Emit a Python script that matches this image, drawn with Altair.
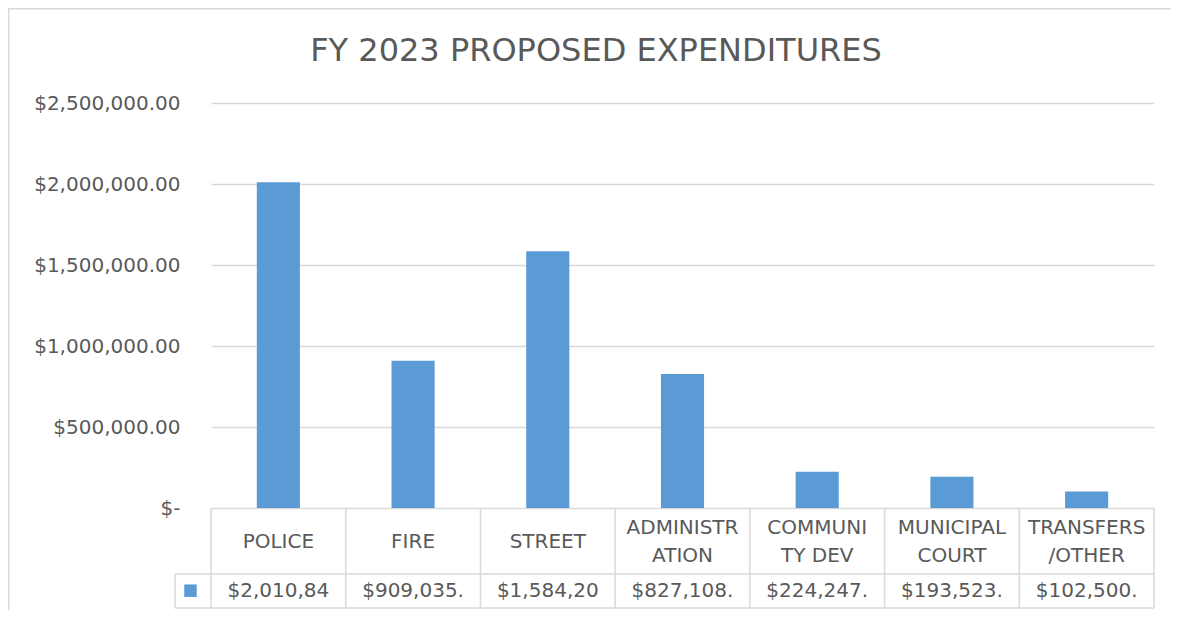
import altair as alt
import pandas as pd

# ---- data ----
categories = ["POLICE", "FIRE", "STREET", "ADMINISTRATION", "COMMUNITY DEV",
              "MUNICIPAL COURT", "TRANSFERS/OTHER"]
header_labels = ["POLICE", "FIRE", "STREET", "ADMINISTR\nATION", "COMMUNI\nTY DEV",
                 "MUNICIPAL\nCOURT", "TRANSFERS\n/OTHER"]
values = [2010840, 909035, 1584200, 827108, 224247, 193523, 102500]
y_ticks = [0, 500000, 1000000, 1500000, 2000000, 2500000]
title_text = "FY 2023 PROPOSED EXPENDITURES"

# Excel data table cells show a fixed-width, truncated currency string
value_labels = [f"${v:,.2f}"[:9] for v in values]

df = pd.DataFrame({
    "category": categories,
    "value": values,
    "header": header_labels,
    "vlabel": value_labels,
    "mid": [i + 0.5 for i in range(len(categories))],
})
bounds = pd.DataFrame({"b": list(range(len(categories) + 1))})

W, H = 943, 405
FONT = "DejaVu Sans"
TXT = "#595959"
GRID = "#d9d9d9"
BLUE = "#5b9bd5"

lin_x = alt.Scale(domain=[0, len(categories)], nice=False, zero=False)

bars = alt.Chart(df).mark_bar(color=BLUE).encode(
    x=alt.X("category:N", sort=categories,
            scale=alt.Scale(paddingInner=0.68, paddingOuter=0.34), axis=None),
    y=alt.Y("value:Q",
            scale=alt.Scale(domain=[0, 2500000], nice=False),
            axis=alt.Axis(values=y_ticks, format="$,.2f",
                          labelExpr="datum.value == 0 ? '$-\u2002' : datum.label",
                          grid=True, gridColor=GRID, gridWidth=1.5,
                          domain=False, ticks=False, labelPadding=31,
                          labelFont=FONT, labelFontSize=20, labelColor=TXT,
                          title=None)),
)

# data-table frame
vlines = alt.Chart(bounds).mark_rule(color=GRID, strokeWidth=1.5).encode(
    x=alt.X("b:Q", scale=lin_x, axis=None),
    y=alt.value(H), y2=alt.value(H + 100),
)
one = pd.DataFrame({"k": [0]})
h_mid = alt.Chart(one).mark_rule(color=GRID, strokeWidth=1.5).encode(
    x=alt.value(-36), x2=alt.value(W), y=alt.value(H + 66))
h_bot = alt.Chart(one).mark_rule(color=GRID, strokeWidth=1.5).encode(
    x=alt.value(-36), x2=alt.value(W), y=alt.value(H + 100))
v_leg = alt.Chart(one).mark_rule(color=GRID, strokeWidth=1.5).encode(
    x=alt.value(-36), y=alt.value(H + 66), y2=alt.value(H + 100))
frame = alt.Chart(one).mark_rect(filled=False, color=GRID, strokeWidth=1.5).encode(
    x=alt.value(-202.25), x2=alt.value(W + 40),
    y=alt.value(-94.25), y2=alt.value(H + 140))
legend_key = alt.Chart(one).mark_point(shape="square", filled=True, size=156,
                                       color=BLUE, opacity=1).encode(
    x=alt.value(-20.5), y=alt.value(H + 82.7))

title = alt.Chart(one).mark_text(
    font=FONT, fontSize=32, color=TXT, align="center",
    baseline="alphabetic").encode(
    x=alt.value(385), y=alt.value(-42.3), text=alt.value(title_text))

header_base = alt.Chart(df).mark_text(
    font=FONT, fontSize=20, color=TXT, align="center", baseline="middle",
    lineBreak="\n", lineHeight=27.4)
header_one = header_base.transform_filter(
    "indexof(datum.header, '\\n') < 0").encode(
    x=alt.X("mid:Q", scale=lin_x, axis=None),
    y=alt.value(H + 34),
    text="header:N",
)
header_two = header_base.transform_filter(
    "indexof(datum.header, '\\n') >= 0").encode(
    x=alt.X("mid:Q", scale=lin_x, axis=None),
    y=alt.value(H + 20.3),
    text="header:N",
)
value_text = alt.Chart(df).mark_text(
    font=FONT, fontSize=20, color=TXT, align="center", baseline="middle").encode(
    x=alt.X("mid:Q", scale=lin_x, axis=None),
    y=alt.value(H + 82.7),
    text="vlabel:N",
)

chart = alt.layer(
    frame, bars, vlines, h_mid, h_bot, v_leg, legend_key,
    header_one, header_two, value_text, title,
).resolve_scale(x="independent").properties(
    width=W, height=H,
    padding={"left": 203, "top": 95, "right": 17, "bottom": 102},
    autosize=alt.AutoSizeParams(type="none"),
    view=alt.ViewBackground(stroke="transparent", strokeWidth=0),
).configure_view(stroke="transparent", strokeWidth=0).configure(background="white")

chart.save("out.html", embed_options={"renderer": "svg", "actions": False})
